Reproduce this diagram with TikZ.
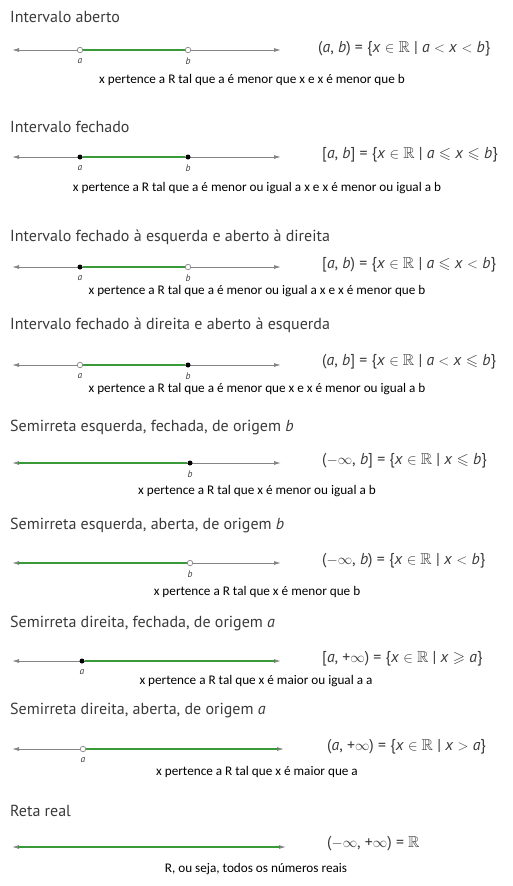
\documentclass[tikz,border=0pt]{standalone}
\usepackage{fontspec}
\usepackage{amssymb}
\setmainfont{Carlito}
\newfontfamily\headfont{PT Sans}
\usetikzlibrary{arrows.meta}
\definecolor{axisgray}{HTML}{858585}
\definecolor{rgreen}{HTML}{3A9A3A}
\definecolor{ink}{HTML}{3A3A3A}
\newcommand{\iv}[1]{\textit{#1}}
\tikzset{
  axis/.style={draw=axisgray,line width=0.9pt,{Latex[length=7pt,width=4pt]}-{Latex[length=7pt,width=4pt]}},
  seg/.style={draw=rgreen,line width=1.8pt},
  fulldot/.style={circle,fill=black,inner sep=0pt,minimum size=5pt},
  hollowdot/.style={circle,draw=axisgray,fill=white,line width=0.7pt,inner sep=0pt,minimum size=5.5pt},
  ptlabel/.style={font=\headfont\itshape\fontsize{9.5}{9.5}\selectfont,text=ink},
  heading/.style={anchor=west,font=\headfont\fontsize{16}{16}\selectfont,text=ink,inner sep=0pt},
  setform/.style={anchor=west,font=\headfont\fontsize{15.8}{16}\selectfont,text=ink,inner sep=0pt},
  caption/.style={font=\fontsize{13.2}{13.2}\selectfont,text=black,inner sep=0pt}
}
\begin{document}
\begin{tikzpicture}[x=1pt,y=-1pt]
  \useasboundingbox (0,0) rectangle (512,886);
  % intervalo aberto
  \node[heading] (t1) at (10,17) {Intervalo aberto};
  \coordinate (l1) at (12,50); \coordinate (r1) at (281,50);
  \draw[axis] (l1) -- (r1);
  \node[hollowdot] (a1) at (80,50) {}; \node[hollowdot] (b1) at (188,50) {};
  \draw[seg] (a1) -- (b1);
  \node[ptlabel] (la1) at (80,61) {a}; \node[ptlabel] (lb1) at (188,61) {b};
  \node[setform] (f1) at (318,49) {(\iv{a}, \iv{b}) = \{\iv{x} $\in\mathbb{R}$ | \iv{a} $<$ \iv{x} $<$ \iv{b}\}};
  \node[caption] (c1) at (252,80) {x pertence a R tal que a é menor que x e x é menor que b};
  % intervalo fechado
  \node[heading] (t2) at (10,127) {Intervalo fechado};
  \coordinate (l2) at (12,157); \coordinate (r2) at (281,157);
  \draw[axis] (l2) -- (r2);
  \node[fulldot] (a2) at (80,157) {}; \node[fulldot] (b2) at (188,157) {};
  \draw[seg] (a2) -- (b2);
  \node[ptlabel] (la2) at (80,168) {a}; \node[ptlabel] (lb2) at (188,168) {b};
  \node[setform] (f2) at (322,155) {[\iv{a}, \iv{b}] = \{\iv{x} $\in\mathbb{R}$ | \iv{a} $\leqslant$ \iv{x} $\leqslant$ \iv{b}\}};
  \node[caption] (c2) at (257,188) {x pertence a R tal que a é menor ou igual a x e x é menor ou igual a b};
  % fechado a esquerda
  \node[heading] (t3) at (10,237) {Intervalo fechado à esquerda e aberto à direita};
  \coordinate (l3) at (12,267); \coordinate (r3) at (281,267);
  \draw[axis] (l3) -- (r3);
  \node[fulldot] (a3) at (80,267) {}; \node[hollowdot] (b3) at (188,267) {};
  \draw[seg] (a3) -- (b3);
  \node[ptlabel] (la3) at (80,278) {a}; \node[ptlabel] (lb3) at (188,278) {b};
  \node[setform] (f3) at (322,265) {[\iv{a}, \iv{b}) = \{\iv{x} $\in\mathbb{R}$ | \iv{a} $\leqslant$ \iv{x} $<$ \iv{b}\}};
  \node[caption] (c3) at (257,291) {x pertence a R tal que a é menor ou igual a x e x é menor que b};
  % fechado a direita
  \node[heading] (t4) at (10,325) {Intervalo fechado à direita e aberto à esquerda};
  \coordinate (l4) at (12,365); \coordinate (r4) at (281,365);
  \draw[axis] (l4) -- (r4);
  \node[hollowdot] (a4) at (80,365) {}; \node[fulldot] (b4) at (188,365) {};
  \draw[seg] (a4) -- (b4);
  \node[ptlabel] (la4) at (80,376) {a}; \node[ptlabel] (lb4) at (188,376) {b};
  \node[setform] (f4) at (322,362) {(\iv{a}, \iv{b}] = \{\iv{x} $\in\mathbb{R}$ | \iv{a} $<$ \iv{x} $\leqslant$ \iv{b}\}};
  \node[caption] (c4) at (257,389) {x pertence a R tal que a é menor que x e x é menor ou igual a b};
  % semirreta esquerda fechada
  \node[heading] (t5) at (10,427) {Semirreta esquerda, fechada, de origem \textit{b}};
  \coordinate (l5) at (12,463); \coordinate (r5) at (281,463); \coordinate (g5) at (18,463);
  \draw[axis] (l5) -- (r5);
  \node[fulldot] (b5) at (190,463) {};
  \draw[seg] (g5) -- (b5);
  \node[ptlabel] (lb5) at (190,474) {b};
  \node[setform] (f5) at (322,461) {($-\infty$, \iv{b}] = \{\iv{x} $\in\mathbb{R}$ | \iv{x} $\leqslant$ \iv{b}\}};
  \node[caption] (c5) at (257,491) {x pertence a R tal que x é menor ou igual a b};
  % semirreta esquerda aberta
  \node[heading] (t6) at (10,525) {Semirreta esquerda, aberta, de origem \textit{b}};
  \coordinate (l6) at (12,563); \coordinate (r6) at (281,563); \coordinate (g6) at (18,563);
  \draw[axis] (l6) -- (r6);
  \node[hollowdot] (b6) at (190,563) {};
  \draw[seg] (g6) -- (b6);
  \node[ptlabel] (lb6) at (190,574) {b};
  \node[setform] (f6) at (322,561) {($-\infty$, \iv{b}) = \{\iv{x} $\in\mathbb{R}$ | \iv{x} $<$ \iv{b}\}};
  \node[caption] (c6) at (257,592) {x pertence a R tal que x é menor que b};
  % semirreta direita fechada
  \node[heading] (t7) at (10,623) {Semirreta direita, fechada, de origem \textit{a}};
  \coordinate (l7) at (12,661); \coordinate (r7) at (281,661); \coordinate (g7) at (275,661);
  \draw[axis] (l7) -- (r7);
  \node[fulldot] (a7) at (82,661) {};
  \draw[seg] (a7) -- (g7);
  \node[ptlabel] (la7) at (82,672) {a};
  \node[setform] (f7) at (322,659) {[\iv{a}, +$\infty$) = \{\iv{x} $\in\mathbb{R}$ | \iv{x} $\geqslant$ \iv{a}\}};
  \node[caption] (c7) at (256,681) {x pertence a R tal que x é maior ou igual a a};
  % semirreta direita aberta
  \node[heading] (t8) at (10,710) {Semirreta direita, aberta, de origem \textit{a}};
  \coordinate (l8) at (12,749); \coordinate (r8) at (284,749); \coordinate (g8) at (278,749);
  \draw[axis] (l8) -- (r8);
  \node[hollowdot] (a8) at (83,749) {};
  \draw[seg] (a8) -- (g8);
  \node[ptlabel] (la8) at (83,760) {a};
  \node[setform] (f8) at (327,747) {(\iv{a}, +$\infty$) = \{\iv{x} $\in\mathbb{R}$ | \iv{x} $>$ \iv{a}\}};
  \node[caption] (c8) at (257,772) {x pertence a R tal que x é maior que a};
  % reta real
  \node[heading] (t9) at (10,811) {Reta real};
  \coordinate (l9) at (12,847); \coordinate (r9) at (286,847);
  \coordinate (g9) at (18,847); \coordinate (h9) at (280,847);
  \draw[axis] (l9) -- (r9);
  \draw[seg] (g9) -- (h9);
  \node[setform] (f9) at (327,844) {($-\infty$, +$\infty$) = $\mathbb{R}$};
  \node[caption] (c9) at (256,869) {R, ou seja, todos os números reais};
\end{tikzpicture}
\end{document}
